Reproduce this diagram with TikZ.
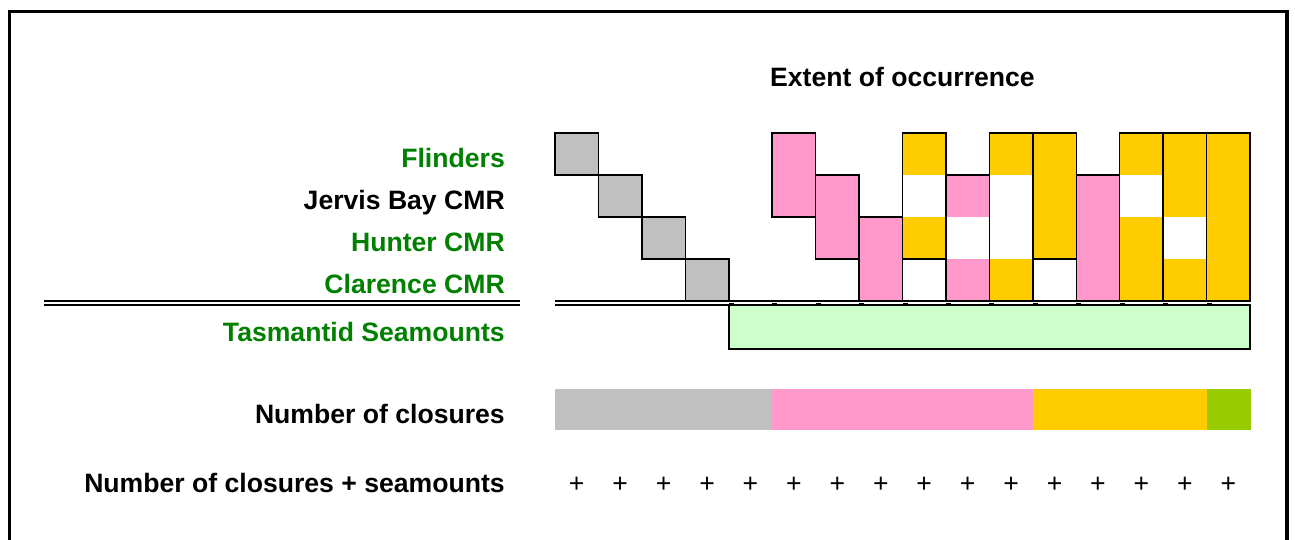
\documentclass[tikz,border=0pt]{standalone}
\usepackage{fontspec}
\setmainfont{Liberation Sans}
\definecolor{cgray}{HTML}{C0C0C0}
\definecolor{cpink}{HTML}{FF99CC}
\definecolor{cgold}{HTML}{FFCC00}
\definecolor{cmint}{HTML}{CCFFCC}
\definecolor{clime}{HTML}{99CC00}
\definecolor{cgreen}{HTML}{008000}
% column x: 555 + 43.44*i ; row y: 133 + 42*j
\newcommand\ccfill[3]{\fill[#3] ({555+43.44*#1},{133+42*#2}) rectangle ({555+43.44*(#1+1)},{133+42*(#2+1)});}
\newcommand\ccbox[3]{\draw[cellline] ({555+43.44*#1},{133+42*#2}) rectangle ({555+43.44*(#1+1)},{133+42*(#3+1)});}
\begin{document}
\begin{tikzpicture}[x=1pt,y=-1pt,
  lbl/.style={anchor=base east, inner sep=0pt, font=\fontsize{26.6}{31}\selectfont\bfseries},
  ttl/.style={anchor=base, inner sep=0pt, font=\fontsize{26.6}{31}\selectfont\bfseries},
  plus/.style={anchor=base, inner sep=0pt, font=\fontsize{26.6}{31}\selectfont},
  cellline/.style={draw=black, line width=1.5pt, line join=miter},
  frameline/.style={draw=black, line width=3.3pt},
  dbl/.style={draw=black, line width=1.8pt}]
\useasboundingbox (0,0) rectangle (1295,539);
\fill[white] (0,0) rectangle (1295,539);

% outer frame, open at the bottom
\draw[frameline] (9.2,545) -- (9.2,11.7) -- (1287,11.7) -- (1287,545);

% title
\node[ttl] (title) at (902.5,86.7) {Extent of occurrence};

% row labels
\node[lbl, text=cgreen] (flinders) at (505,167) {Flinders};
\node[lbl, text=black] (jervis) at (505,209) {Jervis Bay CMR};
\node[lbl, text=cgreen] (hunter) at (505,251) {Hunter CMR};
\node[lbl, text=cgreen] (clarence) at (505,293) {Clarence CMR};
\node[lbl, text=cgreen] (tasman) at (505,341) {Tasmantid Seamounts};
\node[lbl, text=black] (nclos) at (505,423) {Number of closures};
\node[lbl, text=black] (nclossea) at (505,492) {Number of closures + seamounts};

% seamount extent
\draw[cellline, fill=cmint] (729,305) rectangle (1250,349);

% cell fills
\ccfill{0}{0}{cgray}
\ccfill{1}{1}{cgray}
\ccfill{2}{2}{cgray}
\ccfill{3}{3}{cgray}
\ccfill{5}{0}{cpink}\ccfill{5}{1}{cpink}
\ccfill{6}{1}{cpink}\ccfill{6}{2}{cpink}
\ccfill{7}{2}{cpink}\ccfill{7}{3}{cpink}
\ccfill{8}{0}{cgold}\ccfill{8}{2}{cgold}
\ccfill{9}{1}{cpink}\ccfill{9}{3}{cpink}
\ccfill{10}{0}{cgold}\ccfill{10}{3}{cgold}
\ccfill{11}{0}{cgold}\ccfill{11}{1}{cgold}\ccfill{11}{2}{cgold}
\ccfill{12}{1}{cpink}\ccfill{12}{2}{cpink}\ccfill{12}{3}{cpink}
\ccfill{13}{0}{cgold}\ccfill{13}{2}{cgold}\ccfill{13}{3}{cgold}
\ccfill{14}{0}{cgold}\ccfill{14}{1}{cgold}\ccfill{14}{3}{cgold}
\ccfill{15}{0}{cgold}\ccfill{15}{1}{cgold}\ccfill{15}{2}{cgold}\ccfill{15}{3}{cgold}

% cell outlines: {column}{first row}{last row}
\ccbox{0}{0}{0}
\ccbox{1}{1}{1}
\ccbox{2}{2}{2}
\ccbox{3}{3}{3}
\ccbox{5}{0}{1}
\ccbox{6}{1}{2}
\ccbox{7}{2}{3}
\ccbox{8}{0}{2}
\ccbox{9}{1}{3}
\ccbox{10}{0}{3}
\ccbox{11}{0}{2}
\ccbox{12}{1}{3}
\ccbox{13}{0}{3}
\ccbox{14}{0}{3}
\ccbox{15}{0}{3}

% double rule under the marine reserves
\draw[dbl] (44,301) -- (520,301);
\draw[dbl] (44,305) -- (520,305);
\draw[dbl] (555,301) -- (1250,301);
\draw[dbl] (555,305) -- (1250,305);
\foreach \i in {4,...,15}
  \fill[black] ({555+43.44*\i},302.5) rectangle ({555+43.44*\i+5},304.2);

% number of closures bar
\fill[cgray] (555,389) rectangle ({555+43.44*5},430);
\fill[cpink] ({555+43.44*5},389) rectangle ({555+43.44*11},430);
\fill[cgold] ({555+43.44*11},389) rectangle ({555+43.44*15},430);
\fill[clime] ({555+43.44*15},389) rectangle (1251,430);

% closures + seamounts markers
\foreach \i in {0,...,15}
  \node[plus] (p\i) at ({555+43.44*\i+21.72},492) {+};
\end{tikzpicture}
\end{document}
